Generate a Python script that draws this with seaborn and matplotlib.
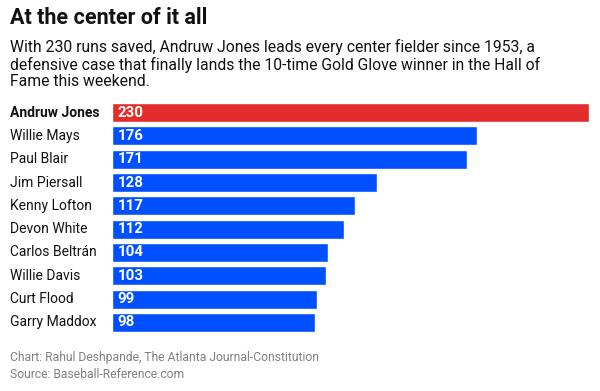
import matplotlib
matplotlib.use("Agg")
import matplotlib.pyplot as plt
import seaborn as sns
import pandas as pd
from matplotlib.transforms import blended_transform_factory

players = ["Andruw Jones", "Willie Mays", "Paul Blair", "Jim Piersall", "Kenny Lofton",
           "Devon White", "Carlos Beltrán", "Willie Davis", "Curt Flood", "Garry Maddox"]
runs_saved = [230, 176, 171, 128, 117, 112, 104, 103, 99, 98]
highlight = ["yes", "no", "no", "no", "no", "no", "no", "no", "no", "no"]

title = "At the center of it all"
subtitle = ("With 230 runs saved, Andruw Jones leads every center fielder since 1953, a\n"
            "defensive case that finally lands the 10-time Gold Glove winner in the Hall of\n"
            "Fame this weekend.")
credit = "Chart: Rahul Deshpande, The Atlanta Journal-Constitution"
source = "Source: Baseball-Reference.com"

sns.set_theme(style="white")
plt.rcParams["font.family"] = ["Roboto", "DejaVu Sans"]

df = pd.DataFrame({"player": players, "runs": runs_saved, "hl": highlight})

W, H = 600, 391
fig = plt.figure(figsize=(6, 3.91), dpi=100)
left, right, top, bottom = 112, 589, 103, 332
ax = fig.add_axes([left / W, 1 - bottom / H, (right - left) / W, (bottom - top) / H])

bh = 0.82
sns.barplot(data=df, y="player", x="runs", hue="hl", palette={"yes": "#e32d2d", "no": "#0050ff"},
            orient="h", width=bh, dodge=False, legend=False, ax=ax, saturation=1)
ax.set_xlim(0, 230)
ax.set_ylim(len(players) - 1 + bh / 2, -bh / 2)
ax.set_xlabel("")
ax.set_ylabel("")
ax.set_xticks([])
ax.set_yticks([])
for s in ax.spines.values():
    s.set_visible(False)

tr = blended_transform_factory(fig.transFigure, ax.transData)
for i, (p, v) in enumerate(zip(players, runs_saved)):
    ax.text(10 / W, i, p, transform=tr, ha="left", va="center", fontsize=10,
            fontweight="bold" if i == 0 else "normal", color="#111111")
    ax.text(2.6, i, str(v), ha="left", va="center", fontsize=10.8, fontweight="bold", color="white")

fig.text(10 / W, 1 - 7 / H, title, ha="left", va="top", fontsize=15.5, fontweight="bold", color="#111111")
fig.text(10 / W, 1 - 39 / H, subtitle, ha="left", va="top", fontsize=11.3, color="#111111", linespacing=1.12)
fig.text(10 / W, 1 - 357 / H, credit, ha="left", va="center", fontsize=8.7, color="#808080")
fig.text(10 / W, 1 - 374 / H, source, ha="left", va="center", fontsize=8.7, color="#808080")

fig.savefig("out.png", dpi=100, facecolor="white")
